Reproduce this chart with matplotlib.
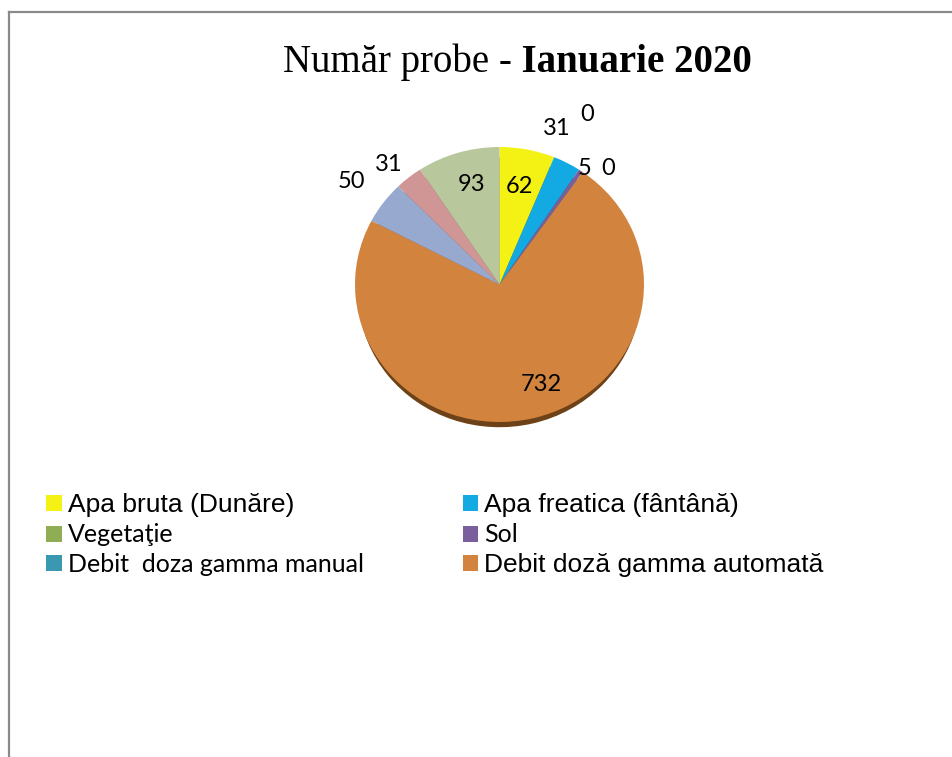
import numpy as np
import matplotlib
matplotlib.use("Agg")
import matplotlib.pyplot as plt
from matplotlib.lines import Line2D

# slice values, clockwise from 12 o'clock
values = [62, 31, 0, 5, 0, 732, 50, 31, 93]
names = ["Apa bruta (Dunăre)", "Apa freatica (fântână)", "Vegetaţie", "Sol",
         "Debit  doza gamma manual", "Debit doză gamma automată", "", "", ""]
colors = ["#f4f215", "#13a9e2", "#8fad52", "#7b5e9c", "#3a99b0",
          "#d2843e", "#97a9cf", "#cf9695", "#b9c79d"]
shadow_colors = ["#7a6f10", "#0c5f80", "#4f6030", "#4a3960", "#245c6a",
                 "#6e4218", "#55607a", "#7a5555", "#6a7358"]

# label placement: angular shift (deg, clockwise) and radial distance
lab_shift = [0, -8.4, -7.3, 0.6, 6.4, -8, -0.6, -2.3, 1.7]
lab_dist = [0.73, 1.20, 1.38, 1.03, 1.13, 0.78, 1.27, 1.16, 0.75]

W, H = 953, 757
fig = plt.figure(figsize=(W / 100, H / 100), dpi=100)

# frame lines (top and left only, like the cropped original)
fig.add_artist(Line2D([9 / W, 1], [1 - 12 / H, 1 - 12 / H], color="#8a8a8a", lw=1.6))
fig.add_artist(Line2D([9 / W, 9 / W], [0, 1 - 12 / H], color="#8a8a8a", lw=1.6))

cx, cy, rx, ry = 499.5, 284.5, 144.5, 137.5
ax = fig.add_axes([(cx - rx) / W, 1 - (cy + ry) / H, 2 * rx / W, 2 * ry / H])

# shadow underneath
ax.pie(values, colors=shadow_colors, startangle=90, counterclock=False,
       center=(0, -0.058), radius=0.98, wedgeprops=dict(linewidth=0))
wedges, _ = ax.pie(values, colors=colors, startangle=90, counterclock=False,
                   radius=1.0, wedgeprops=dict(linewidth=0))
ax.set_aspect("auto")
ax.set_xlim(-1, 1)
ax.set_ylim(-1, 1)
ax.axis("off")

for w, v, sh, d in zip(wedges, values, lab_shift, lab_dist):
    mid = (w.theta1 + w.theta2) / 2 - sh
    t = np.deg2rad(mid)
    ax.text(d * np.cos(t), d * np.sin(t), str(v), ha="center", va="center",
            fontsize=17, family="Lato", clip_on=False)

# title: regular + bold parts
t1 = fig.text(283 / W, 1 - 72 / H, "Număr probe ", family="Liberation Serif",
              fontsize=28, va="baseline", ha="left")
fig.canvas.draw()
bb = t1.get_window_extent()
fig.text(bb.x1 / W, 1 - 72 / H, "- Ianuarie 2020", family="Liberation Serif",
         fontsize=28, fontweight="bold", va="baseline", ha="left")

# legend (only the first six categories), filled row-wise
order = [0, 2, 4, 1, 3, 5]
leg = fig.legend([wedges[i] for i in order], [names[i] for i in order],
                 ncol=2, loc="upper left", bbox_to_anchor=(36 / W, 1 - 483 / H),
                 frameon=False, fontsize=18, handlelength=0.62, handleheight=0.62,
                 handletextpad=0.25, labelspacing=0.26, columnspacing=3.95,
                 borderaxespad=0)
arial_like = {"Apa bruta (Dunăre)", "Apa freatica (fântână)", "Debit doză gamma automată"}
for h, txt in zip(leg.legend_handles, leg.get_texts()):
    if txt.get_text() in arial_like:
        txt.set_family("Liberation Sans")
        txt.set_fontsize(19)
    else:
        txt.set_family("Lato")
        txt.set_fontsize(18)

fig.savefig("out.png", dpi=100)
